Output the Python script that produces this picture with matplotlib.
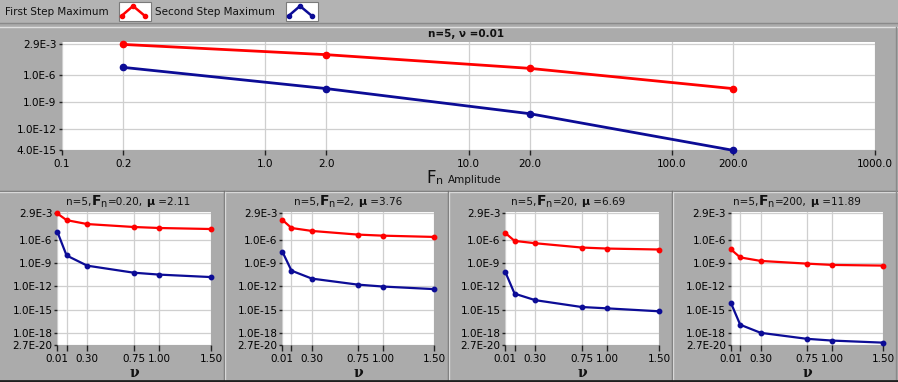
import matplotlib
matplotlib.use('Agg')
import matplotlib.pyplot as plt
from matplotlib.lines import Line2D
from matplotlib.patches import Rectangle
from matplotlib.offsetbox import TextArea, HPacker, AnnotationBbox

# ---------------- data ----------------
fn_amplitude = [0.2, 2, 20, 200]
top_first = [2.8e-3, 2.0e-4, 5.9e-6, 3.2e-8]
top_second = [7.6e-6, 3.2e-8, 5.0e-11, 4.0e-15]

nu = [0.01, 0.1, 0.3, 0.75, 1.0, 1.5]
fn_labels = ["0.20", "2", "20", "200"]
mu_labels = ["2.11", "3.76", "6.69", "11.89"]
first_fn020 = [2.3e-3, 3.2e-4, 1.0e-4, 4.2e-5, 3.1e-5, 2.3e-5]
second_fn020 = [1.05e-5, 9e-9, 4.4e-10, 5.5e-11, 3.1e-11, 1.5e-11]
first_fn2 = [3.5e-4, 3.1e-5, 1.3e-5, 4.4e-6, 3.2e-6, 2.2e-6]
second_fn2 = [2.9e-8, 1.0e-10, 9.5e-12, 1.6e-12, 9e-13, 4.2e-13]
first_fn20 = [7e-6, 6.8e-7, 3.4e-7, 9.5e-8, 7e-8, 5.3e-8]
second_fn20 = [6.8e-11, 1.1e-13, 1.6e-14, 2.1e-15, 1.4e-15, 5.9e-16]
first_fn200 = [5.4e-8, 5.1e-9, 1.8e-9, 8.1e-10, 5.5e-10, 4.5e-10]
second_fn200 = [6.6e-15, 1.1e-17, 1.0e-18, 1.7e-19, 1.0e-19, 5.4e-20]
first_series = [first_fn020, first_fn2, first_fn20, first_fn200]
second_series = [second_fn020, second_fn2, second_fn20, second_fn200]

top_xticks = [0.1, 0.2, 1.0, 2.0, 10.0, 20.0, 100.0, 200.0, 1000.0]
top_xticklabels = ["0.1", "0.2", "1.0", "2.0", "10.0", "20.0", "100.0", "200.0", "1000.0"]
top_yticks = [4.0e-15, 1e-12, 1e-9, 1e-6, 2.9e-3]
top_yticklabels = ["4.0E-15", "1.0E-12", "1.0E-9", "1.0E-6", "2.9E-3"]
bot_xticks = [0.01, 0.1, 0.3, 0.75, 1.0, 1.5]
bot_xticklabels = ["0.01", "", "0.30", "0.75", "1.00", "1.50"]
bot_yticks = [2.7e-20, 1e-18, 1e-15, 1e-12, 1e-9, 1e-6, 2.9e-3]
bot_yticklabels = ["2.7E-20", "1.0E-18", "1.0E-15", "1.0E-12", "1.0E-9", "1.0E-6", "2.9E-3"]

# ---------------- style ----------------
W, H = 898, 382
BG = '#ababab'
RED = '#ff0000'
BLUE = '#0c0c96'
GRID = '#cfcfcf'
plt.rcParams['font.family'] = ['DejaVu Sans']

fig = plt.figure(figsize=(W / 100, H / 100), dpi=100, facecolor=BG)


def fx(x):
    return x / W


def fy(y):
    return 1 - y / H


def add_axes_px(x0, y0, x1, y1):
    return fig.add_axes([fx(x0), fy(y1), (x1 - x0) / W, (y1 - y0) / H])


def line_px(xs, ys, color, lw=1.0):
    fig.add_artist(Line2D([fx(x) for x in xs], [fy(y) for y in ys],
                          transform=fig.transFigure, color=color, lw=lw))


def style_axes(ax):
    ax.set_facecolor('white')
    for s in ax.spines.values():
        s.set_visible(False)
    ax.minorticks_off()
    ax.grid(True, color=GRID, lw=0.9)
    ax.set_axisbelow(True)


# ---------------- panel frames ----------------
# legend strip
fig.add_artist(Rectangle((0, fy(23)), 1, 23 / H, transform=fig.transFigure,
                         facecolor='#b3b3b3', edgecolor='none'))
line_px([0, W], [23, 23], '#8a8a8a', 1)
line_px([0, W], [27, 27], '#e0e0e0', 1)
line_px([0, W], [191, 191], '#6e6e6e', 1)
line_px([0, W], [192, 192], '#d8d8d8', 1)
for xs in [224, 448, 672]:
    line_px([xs, xs], [191, 380], '#6e6e6e', 1)
    line_px([xs + 1, xs + 1], [192, 380], '#d8d8d8', 1)
line_px([W - 2, W - 2], [27, 380], '#8a8a8a', 1)
line_px([0, W], [380.5, 380.5], '#202020', 2)

# legend
fig.text(fx(5), fy(12), "First Step Maximum", fontsize=7.5, va='center', ha='left', color='#111111')
fig.text(fx(155), fy(12), "Second Step Maximum", fontsize=7.5, va='center', ha='left', color='#111111')
for (sx, col) in [(119, RED), (286, BLUE)]:
    fig.add_artist(Rectangle((fx(sx), fy(21)), 32 / W, 19 / H, transform=fig.transFigure,
                             facecolor='white', edgecolor='#7a7a7a', lw=0.8))
    fig.add_artist(Line2D([fx(sx + 3), fx(sx + 14), fx(sx + 26)], [fy(15.5), fy(6), fy(16)],
                          transform=fig.transFigure, color=col, lw=1.8,
                          marker='o', markersize=3))

# ---------------- top plot ----------------
ax = add_axes_px(62, 42.3, 875, 150.3)
style_axes(ax)
ax.set_xscale('log')
ax.set_yscale('log')
ax.plot(fn_amplitude, top_first, color=RED, lw=2, marker='o', markersize=4.5, clip_on=False, zorder=3)
ax.plot(fn_amplitude, top_second, color=BLUE, lw=2, marker='o', markersize=4.5, clip_on=False, zorder=3)
ax.set_xlim(0.1, 1000)
ax.set_ylim(4.0e-15, 4.85e-3)
ax.set_xticks(top_xticks)
ax.set_xticklabels(top_xticklabels)
ax.set_yticks(top_yticks)
ax.set_yticklabels(top_yticklabels)
ax.minorticks_off()
ax.tick_params(axis='x', length=3.5, width=1, pad=3, labelsize=7.5, color='#222222')
ax.tick_params(axis='y', length=2.5, width=1, pad=1.5, labelsize=7.5, color='#222222')
fig.text(fx(466), fy(34), "n=5, ν =0.01", fontsize=7.5, fontweight='bold', ha='center', va='center',
         color='#111111')
fig.text(fx(431), fy(178), "F", fontsize=12, ha='center', va='center', color='#111111')
fig.text(fx(436), fy(181), "n", fontsize=8, ha='left', va='center', color='#111111')
fig.text(fx(448), fy(180), "Amplitude", fontsize=7.5, ha='left', va='center', color='#111111')

# ---------------- bottom plots ----------------
lefts = [57.3, 282.3, 505.3, 731]
rights = [211, 434.3, 659, 883.3]
title_cx = [128, 348, 568, 797]
for i in range(4):
    ax = add_axes_px(lefts[i], 211.7, rights[i], 345)
    style_axes(ax)
    ax.set_yscale('log')
    ax.plot(nu, first_series[i], color=RED, lw=1.6, marker='o', markersize=3.2, clip_on=False, zorder=3)
    ax.plot(nu, second_series[i], color=BLUE, lw=1.6, marker='o', markersize=3.2, clip_on=False, zorder=3)
    ax.set_xlim(0.01, 1.5)
    ax.set_ylim(2.7e-20, 3.9e-3)
    ax.set_xticks(bot_xticks)
    ax.set_xticklabels(bot_xticklabels)
    ax.set_yticks(bot_yticks)
    ax.set_yticklabels(bot_yticklabels)
    ax.minorticks_off()
    ax.tick_params(axis='x', length=4, width=1, pad=2.5, labelsize=7.5, color='#222222')
    ax.tick_params(axis='y', length=2.5, width=1, pad=1, labelsize=7.5, color='#222222')
    cx = (lefts[i] + rights[i]) / 2
    fig.text(fx(cx), fy(373), "ν", fontsize=10, fontweight='bold', family='DejaVu Serif',
             ha='center', va='center', color='#111111')
    parts = [
        TextArea("n=5,", textprops=dict(size=7.5, color='#111111')),
        TextArea(r"$\mathbf{F}_{\mathrm{n}}$", textprops=dict(size=10, color='#111111')),
        TextArea("=" + fn_labels[i] + ",", textprops=dict(size=7.5, color='#111111')),
        TextArea(" μ", textprops=dict(size=8, color='#111111', fontweight='bold')),
        TextArea(" =" + mu_labels[i], textprops=dict(size=7.5, color='#111111')),
    ]
    pack = HPacker(children=parts, align='baseline', pad=0, sep=0)
    ab = AnnotationBbox(pack, (title_cx[i], H - 201.5), xycoords='figure pixels',
                        frameon=False, box_alignment=(0.5, 0.5), annotation_clip=False)
    fig.add_artist(ab)

fig.savefig('out.png', dpi=100, facecolor=BG)
